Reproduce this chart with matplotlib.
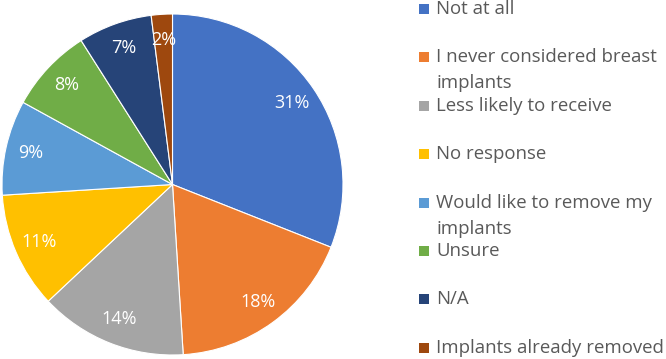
import matplotlib.pyplot as plt
from matplotlib.patches import Rectangle

labels = ["Not at all", "I never considered breast\nimplants", "Less likely to receive",
          "No response", "Would like to remove my\nimplants", "Unsure", "N/A",
          "Implants already removed"]
values = [31, 18, 14, 11, 9, 8, 7, 2]
colors = ["#4472C4", "#ED7D31", "#A5A5A5", "#FFC000", "#5B9BD5", "#70AD47", "#264478", "#9E480E"]

plt.rcParams['font.family'] = ['Open Sans', 'DejaVu Sans']

fig = plt.figure(figsize=(6.66, 3.59), dpi=100)
ax = fig.add_axes([2 / 666, 4 / 359, 341 / 666, 341 / 359])

wedges, texts, autotexts = ax.pie(values, colors=colors, startangle=90, counterclock=False,
                                  autopct='%d%%', pctdistance=0.85, radius=1,
                                  wedgeprops=dict(edgecolor='white', linewidth=0.8),
                                  textprops=dict(color='white', fontsize=13))
ax.set_xlim(-1, 1)
ax.set_ylim(-1, 1)
ax.set_aspect('equal')

# legend drawn by hand so wrapped labels keep the marker on the first line
W, H = 666, 359
y0, step = 9, 48.4
for i, (lab, c) in enumerate(zip(labels, colors)):
    y = y0 + i * step
    fig.add_artist(Rectangle(((419) / W, 1 - (y + 5) / H), 10 / W, 10 / H,
                             transform=fig.transFigure, facecolor=c, edgecolor='none'))
    for j, line in enumerate(lab.split("\n")):
        fig.text(436 / W, 1 - (y + j * 26) / H, line, fontsize=13.4, color='#595959',
                 va='center')

fig.savefig("out.png", dpi=100)
